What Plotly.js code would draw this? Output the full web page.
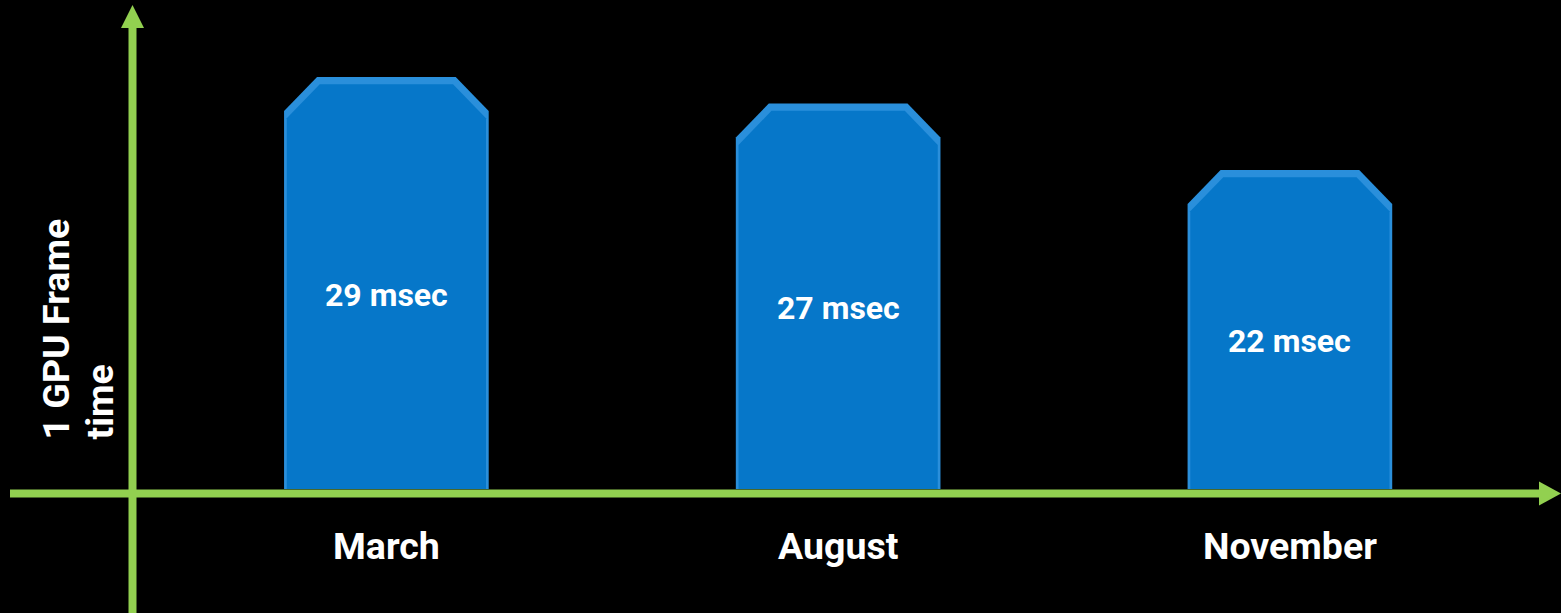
<!DOCTYPE html>
<html>
<head>
<meta charset="utf-8">
<script src="https://cdn.plot.ly/plotly-3.0.1.min.js"></script>
<style>html,body{margin:0;padding:0;background:#000;}#chart{width:1561px;height:613px;}</style>
</head>
<body>
<div id="chart"></div>
<script>
// ---- data ----
const categories = ['March', 'August', 'November'];
const frameTimes = [29, 27, 22];
const unitLabel = 'msec';
const yTitleLines = ['1 GPU Frame', 'time'];

// ---- styling / geometry constants ----
const W = 1561, H = 613;
const GREEN = '#92D050';
const BAR_EDGE = '#2A8FDB';
const BAR_FILL = '#0677C9';
const FONT = 'Roboto, "Open Sans", sans-serif';
const BASE = -2;            // axis floor where bars start
const HALF_W = 0.2265;      // bar half width (x units)
const CH_X = 0.073;         // chamfer width (x units)
const CH_Y = 2.56;          // chamfer height (y units)
const IN_X = 0.006, IN_Y = 0.55;

function barPoly(i, v, hw, top) {
  const xs = [i - hw, i - hw, i - hw + CH_X, i + hw - CH_X, i + hw, i + hw, i - hw];
  const ys = [BASE, top - CH_Y, top, top, top - CH_Y, BASE, BASE];
  return {xs, ys};
}

const traces = [];
frameTimes.forEach((v, i) => {
  const o = barPoly(i, v, HALF_W, v);
  traces.push({x: o.xs, y: o.ys, type: 'scatter', mode: 'lines', fill: 'toself',
    fillcolor: BAR_EDGE, line: {width: 0, color: BAR_EDGE}, hoverinfo: 'skip'});
  const n = barPoly(i, v, HALF_W - IN_X, v - IN_Y);
  traces.push({x: n.xs, y: n.ys, type: 'scatter', mode: 'lines', fill: 'toself',
    fillcolor: BAR_FILL, line: {width: 0, color: BAR_FILL}, hoverinfo: 'skip'});
});

const annotations = [];
frameTimes.forEach((v, i) => {
  annotations.push({x: i, y: (v + BASE) / 2, xref: 'x', yref: 'y', yshift: -12,
    text: v + ' ' + unitLabel, showarrow: false,
    font: {family: FONT, size: 32, color: '#fff', weight: 'bold'}});
});
categories.forEach((c, i) => {
  annotations.push({x: i, y: 1 - 546 / H, xref: 'x', yref: 'paper', yanchor: 'middle',
    text: c, showarrow: false,
    font: {family: FONT, size: 37.5, color: '#fff', weight: 'bold'}});
});
const titleX = [55, 99];
yTitleLines.forEach((t, k) => {
  annotations.push({x: titleX[k] / W, y: 1 - 442 / H, xref: 'paper', yref: 'paper',
    xanchor: 'center', yanchor: 'bottom', textangle: -90,
    text: t, showarrow: false,
    font: {family: FONT, size: 37.5, color: '#fff', weight: 'bold'}});
});

const px = x => x / W, py = y => 1 - y / H;
const shapes = [
  {type: 'line', xref: 'paper', yref: 'paper', x0: px(10), x1: px(1541), y0: py(493.5), y1: py(493.5),
    line: {color: GREEN, width: 8}, layer: 'above'},
  {type: 'path', xref: 'paper', yref: 'paper', layer: 'above',
    path: `M${px(1539)},${py(481.5)} L${px(1561)},${py(493.5)} L${px(1539)},${py(505.5)} Z`,
    fillcolor: GREEN, line: {width: 0}},
  {type: 'line', xref: 'paper', yref: 'paper', x0: px(132.5), x1: px(132.5), y0: py(26), y1: py(613),
    line: {color: GREEN, width: 8}, layer: 'above'},
  {type: 'path', xref: 'paper', yref: 'paper', layer: 'above',
    path: `M${px(121)},${py(28)} L${px(132.5)},${py(5)} L${px(144)},${py(28)} Z`,
    fillcolor: GREEN, line: {width: 0}}
];

const layout = {
  width: W, height: H, margin: {l: 0, r: 0, t: 0, b: 0},
  paper_bgcolor: '#000', plot_bgcolor: '#000', showlegend: false,
  xaxis: {range: [-0.8553, 2.6001], visible: false, fixedrange: true},
  yaxis: {range: [-11.33, 34.79], visible: false, fixedrange: true},
  annotations, shapes
};
Plotly.newPlot('chart', traces, layout, {displayModeBar: false, staticPlot: true});
</script>
</body>
</html>
